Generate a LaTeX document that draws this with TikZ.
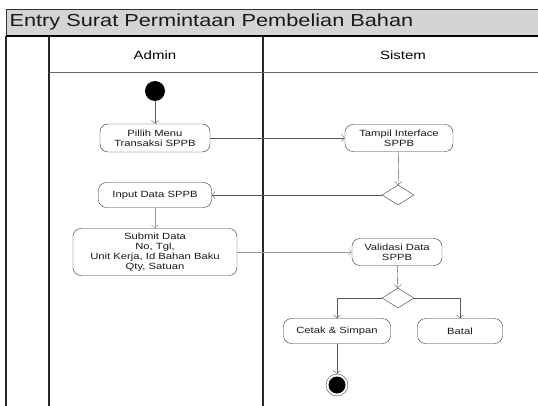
\documentclass[tikz,border=0pt]{standalone}
\usepackage{fontspec}
\setmainfont{Liberation Sans}[FakeStretch=1.25]
\usetikzlibrary{shapes.geometric,arrows.meta}

\begin{document}
\begin{tikzpicture}[x=1pt, y=-1pt,
  act/.style={draw=black!80, rounded corners=8pt, align=center, fill=white,
    inner sep=1pt, text=black!90, font=\fontsize{9}{10}\selectfont},
  dec/.style={draw=black!80, diamond, minimum width=32pt, minimum height=20pt, inner sep=0pt},
  flow/.style={draw=black!65, -{Straight Barb[length=3pt,width=7pt]}},
  lane/.style={draw=black!85, line width=1.2pt}]

\useasboundingbox (0,0) rectangle (538,406);

% swimlane frame
\draw[fill=black!17, draw=black!80] (6,9) rectangle (540,36);
\draw[line width=1.3pt] (6,36) -- (538,36);
\draw[lane] (6,36) -- (6,406);
\draw[lane] (49,36) -- (49,406);
\draw[lane] (263,36) -- (263,406);
\draw[draw=black!60, line width=0.8pt] (49,72) -- (538,72);

\node[anchor=west, text=black!90, font=\fontsize{17.4}{19}\selectfont] (title) at (6,22.5) {Entry Surat Permintaan Pembelian Bahan};
\node[font=\fontsize{12}{13}\selectfont] (admin) at (155,55) {Admin};
\node[font=\fontsize{12}{13}\selectfont] (sistem) at (403,55) {Sistem};

% activities
\node[circle, fill=black, minimum size=20pt, inner sep=0pt] (start) at (155,91) {};
\node[act, minimum width=110pt, minimum height=28pt] (pilih) at (155,138) {Pillih Menu\\Transaksi SPPB};
\node[act, minimum width=108pt, minimum height=27pt] (tampil) at (399,138) {Tampil Interface\\SPPB};
\node[dec] (dec1) at (398,195) {};
\node[act, minimum width=113pt, minimum height=25pt] (input) at (155,195) {Input Data SPPB};
\node[act, minimum width=164pt, minimum height=47pt] (submit) at (155,252) {Submit Data\\No, Tgl,\\Unit Kerja, Id Bahan Baku\\Qty, Satuan};
\node[act, minimum width=90pt, minimum height=27pt] (valid) at (397,252) {Validasi Data\\SPPB};
\node[dec] (dec2) at (398,298) {};
\node[act, minimum width=107pt, minimum height=25pt] (cetak) at (337,331) {Cetak \& Simpan};
\node[act, minimum width=85pt, minimum height=25pt] (batal) at (460,331) {Batal};
\node[circle, draw=black!70, minimum size=22pt, inner sep=0pt] (end) at (337,385) {};
\node[circle, fill=black, minimum size=17pt, inner sep=0pt] at (end) {};

% flows
\draw[flow] (start) -- (pilih);
\draw[flow] (pilih) -- (tampil);
\draw[flow] (tampil) -- (dec1);
\draw[flow] (dec1) -- (input);
\draw[flow, draw=black!40] (input) -- (submit);
\draw[flow, draw=black!40] (submit) -- (valid);
\draw[flow] (valid) -- (dec2);
\draw[flow] (dec2.west) -| (cetak);
\draw[flow] (dec2.east) -| (batal);
\draw[flow] (cetak) -- (end);

\end{tikzpicture}
\end{document}
